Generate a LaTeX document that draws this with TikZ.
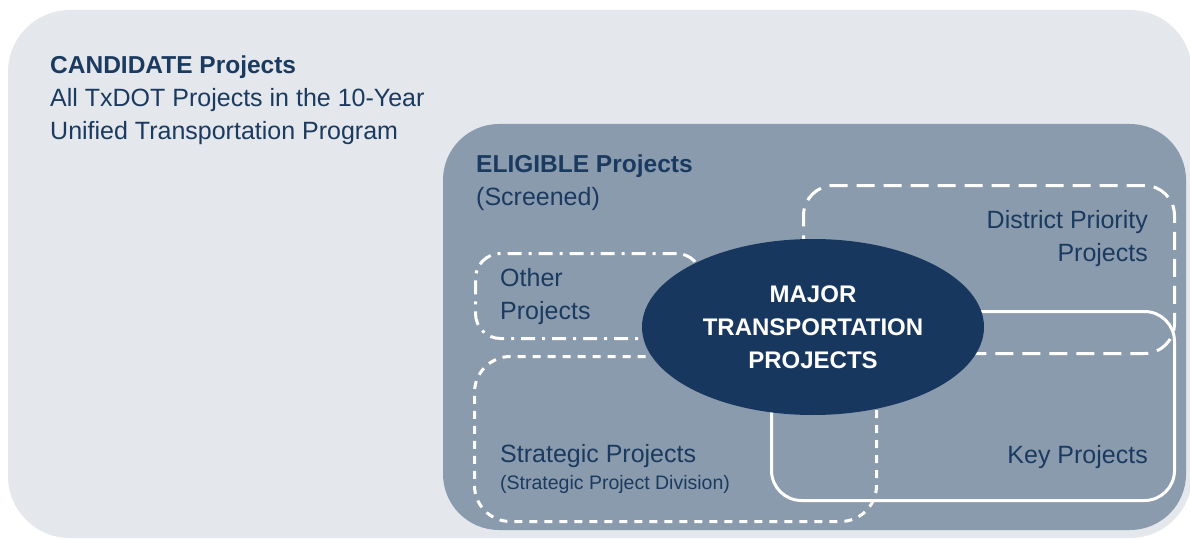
\documentclass[tikz,border=0pt]{standalone}
\usepackage{fontspec}
\setmainfont{Liberation Sans}
\usetikzlibrary{shapes.geometric}
\begin{document}
\begin{tikzpicture}[
  x=1pt, y=-1pt,
  font=\fontsize{25}{33}\selectfont,
  headtext/.style={font=\fontsize{24.5}{33}\selectfont\bfseries, text=navyText, anchor=base west, inner sep=0pt},
  bodytext/.style={text=navyText, anchor=base west, inner sep=0pt},
  righttext/.style={text=navyText, anchor=base east, inner sep=0pt},
  setbox/.style={draw=white, line width=3pt, anchor=north west, inner sep=0pt},
  otherline/.style={dash pattern=on 14pt off 7pt on 3pt off 7pt},
  districtline/.style={dash pattern=on 18pt off 9pt},
  strategicline/.style={dash pattern=on 8pt off 7pt},
  majorblob/.style={ellipse, fill=majorFill, text=white, align=center, inner sep=0pt,
    font=\fontsize{24}{33}\selectfont\bfseries},
]

\definecolor{candidateFill}{HTML}{E4E7EC}
\definecolor{eligibleFill}{HTML}{8A9BAE}
\definecolor{majorFill}{HTML}{17375E}
\definecolor{navyText}{HTML}{1B3A5F}

% Canvas.
\useasboundingbox (0,0) rectangle (1190,540);
\clip (0,0) rectangle (1190,540);
\fill[white] (0,0) rectangle (1190,540);

% Outer regions.
\fill[candidateFill, rounded corners=62pt] (8,10) rectangle (1192,538);
\fill[eligibleFill, rounded corners=56pt] (443,124) rectangle (1186,530);

% Candidate text.
\node[headtext] (candTitle) at (50,74) {CANDIDATE Projects};
\node[bodytext] (candLineA) at (50,107) {All TxDOT Projects in the 10-Year};
\node[bodytext] (candLineB) at (50,140) {Unified Transportation Program};

% Eligible text.
\node[headtext] (eligTitle) at (476,173) {ELIGIBLE Projects};
\node[bodytext] (eligLine) at (476,205) {(Screened)};

% Project sets.
\node[setbox, otherline, rounded corners=25pt, minimum width=226pt, minimum height=85pt]
  (otherSet) at (474,252) {};
\node[setbox, districtline, rounded corners=30pt, minimum width=371pt, minimum height=168pt]
  (districtSet) at (802,184) {};
\node[setbox, strategicline, rounded corners=36pt, minimum width=402pt, minimum height=165pt]
  (strategicSet) at (473,355) {};
\node[setbox, rounded corners=30pt, minimum width=403pt, minimum height=189pt]
  (keySet) at (770,310) {};

% Set labels.
\node[bodytext] (otherA) at (500,286) {Other};
\node[bodytext] (otherB) at (500,319) {Projects};
\node[righttext] (districtA) at (1148,228) {District Priority};
\node[righttext] (districtB) at (1148,261) {Projects};
\node[bodytext] (strategicA) at (500,462) {Strategic Projects};
\node[bodytext, font=\fontsize{19.5}{20}\selectfont] (strategicB) at (500,489) {(Strategic Project Division)};
\node[righttext] (keyA) at (1148,463) {Key Projects};

% Major projects.
\node[majorblob, minimum width=342pt, minimum height=176pt] (major) at (813,327)
  {MAJOR\\TRANSPORTATION\\PROJECTS};

\end{tikzpicture}
\end{document}
